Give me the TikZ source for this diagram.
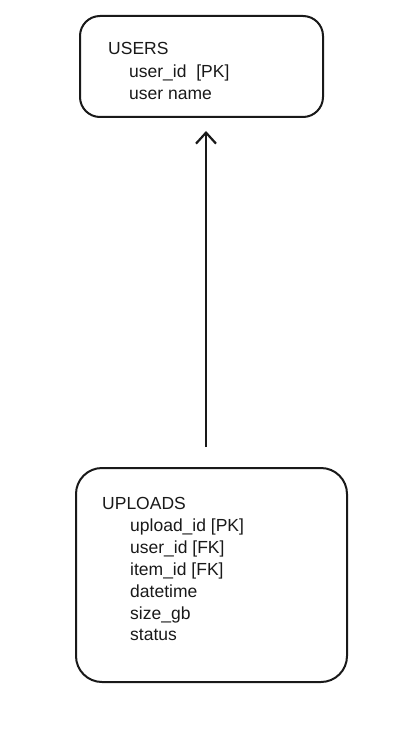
\documentclass[tikz,border=0pt]{standalone}
\usepackage{fontspec}
\setmainfont{Liberation Sans}
\usetikzlibrary{arrows.meta}
\begin{document}
\begin{tikzpicture}[x=1pt,y=1pt,
  tbl/.style={draw=black!90, line width=2pt, rounded corners=20pt, inner sep=0pt},
  txt/.style={anchor=base west, inner sep=0pt, font=\fontsize{17.5}{20}\selectfont, text=black!90},
  conn/.style={line width=2.4pt, draw=black!90, -{Straight Barb[length=11pt,width=20pt,line width=2.2pt]}}]
\useasboundingbox (0,0) rectangle (418,-733);
\node[tbl, minimum width=243pt, minimum height=101pt] (users) at (201.5,-66.5) {};
\node[tbl, minimum width=271pt, minimum height=214pt, rounded corners=26pt] (uploads) at (211.5,-575) {};
\node[txt] (u0) at (108,-55) {USERS};
\node[txt] (u1) at (129,-78) {user\_id \ [PK]};
\node[txt] (u2) at (129,-100) {user name};
\node[txt] (p0) at (102,-509) {UPLOADS};
\node[txt] (p1) at (130,-531) {upload\_id [PK]};
\node[txt] (p2) at (130,-553) {user\_id [FK]};
\node[txt] (p3) at (130,-575) {item\_id [FK]};
\node[txt] (p4) at (130,-597) {datetime};
\node[txt] (p5) at (130,-619) {size\_gb};
\node[txt] (p6) at (130,-640) {status};
\draw[conn] ([xshift=-5.5pt,yshift=20pt]uploads.north) -- ([xshift=4.5pt,yshift=-13pt]users.south);
\end{tikzpicture}
\end{document}
